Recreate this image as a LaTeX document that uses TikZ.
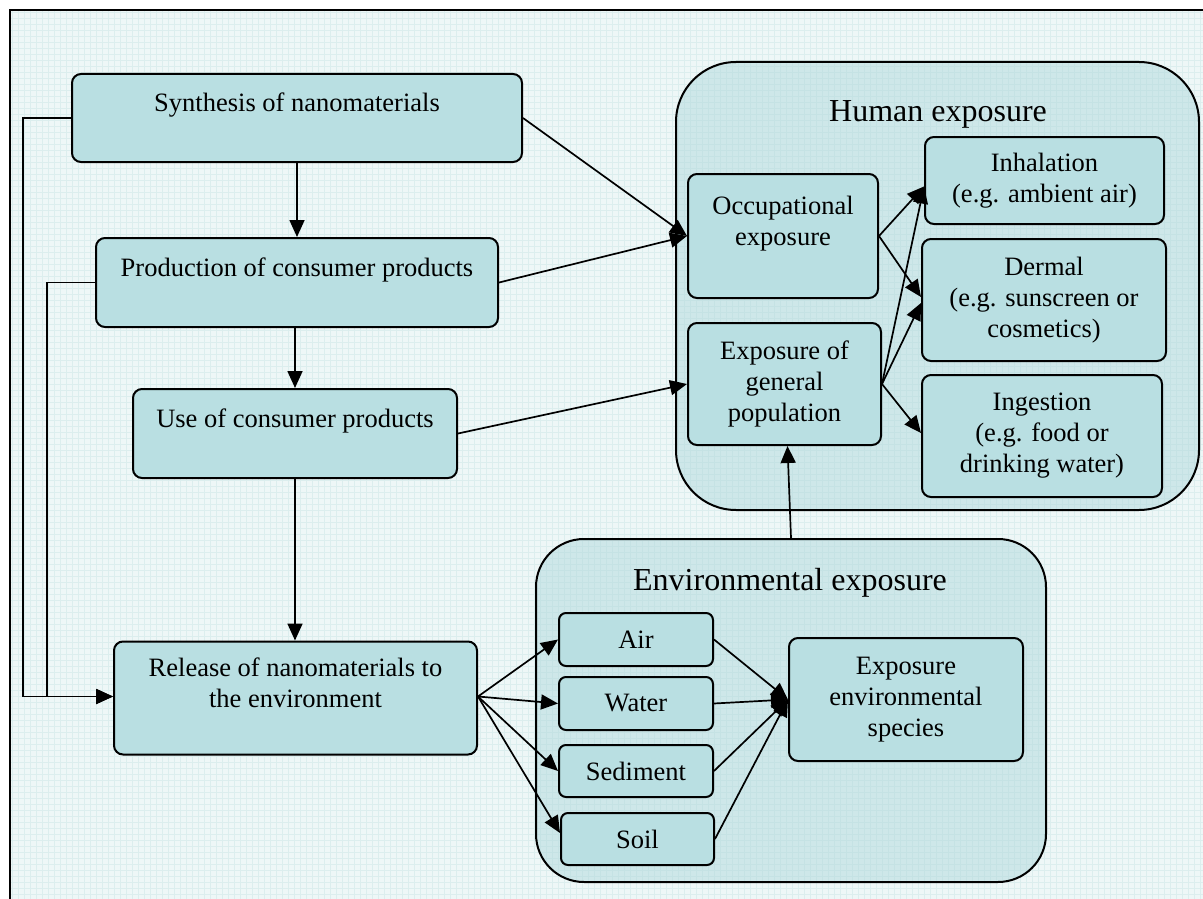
\documentclass[tikz,border=0pt]{standalone}
\usepackage{fontspec}
\setmainfont{Liberation Serif}
\usetikzlibrary{arrows.meta,calc}
\definecolor{boxfill}{HTML}{B9DFE2}
\definecolor{bgfill}{HTML}{EEF7F7}
\definecolor{gridc}{HTML}{DCEEEE}
\definecolor{contfill}{HTML}{A9D5D9}
\begin{document}
\begin{tikzpicture}[x=1pt,y=-1pt,
  box/.style={draw=black, line width=2pt, fill=boxfill, rounded corners=9pt, inner sep=0pt, align=center, font=\fontsize{26.5}{31}\selectfont},
  cont/.style={draw=black, line width=2pt, fill=contfill, fill opacity=0.45, inner sep=0pt},
  ttl/.style={font=\fontsize{32}{38}\selectfont, inner sep=0pt},
  arr/.style={line width=1.7pt, -{Triangle[length=17pt,width=15pt]}},
  link/.style={line width=1.7pt}]
\useasboundingbox (0,0) rectangle (1203,899);
\clip (0,0) rectangle (1203,899);
% background paper
\fill[bgfill] (10,10) rectangle (1220,920);
\draw[gridc, line width=0.3pt, step=6pt] (10,10) grid (1220,920);
\draw[line width=1.8pt] (10,920) -- (10,10) -- (1220,10);

% containers
\node[cont, rounded corners=60pt, minimum width=523pt, minimum height=448pt] (hum) at (937.5,286) {};
\node[cont, rounded corners=48pt, minimum width=510pt, minimum height=343pt] (envc) at (791,710.5) {};
\node[ttl] (humt) at (938,114) {Human exposure};
\node[ttl] (envt) at (790,583) {Environmental exposure};

% left chain
\node[box, minimum width=450pt, minimum height=88pt] (syn) at (297,118) {Synthesis of nanomaterials\\ ~};
\node[box, minimum width=402pt, minimum height=89pt] (prod) at (297,282.5) {Production of consumer products\\ ~};
\node[box, minimum width=324pt, minimum height=89pt] (use) at (295,433.5) {Use of consumer products\\ ~};
\node[box, minimum width=363pt, minimum height=113pt] (rel) at (295.5,698) {Release of nanomaterials to\\the environment\\ ~};

% human exposure boxes
\node[box, minimum width=190pt, minimum height=124pt] (occ) at (783,236) {Occupational\\exposure\\ ~};
\node[box, minimum width=193pt, minimum height=122pt] (gen) at (784.5,384) {Exposure of\\general\\population};
\node[box, minimum width=239pt, minimum height=87pt] (inh) at (1044.5,180.5) {Inhalation\\(e.g. ambient air)};
\node[box, minimum width=244pt, minimum height=122pt] (der) at (1044,300) {Dermal\\(e.g. sunscreen or\\cosmetics)};
\node[box, minimum width=240pt, minimum height=122pt] (ing) at (1042,436) {Ingestion\\(e.g. food or\\drinking water)};

% environmental boxes
\node[box, rounded corners=7pt, minimum width=154pt, minimum height=53pt] (air) at (636,639.5) {Air};
\node[box, rounded corners=7pt, minimum width=154pt, minimum height=53pt] (wat) at (636,703.5) {Water};
\node[box, rounded corners=7pt, minimum width=154pt, minimum height=52pt] (sed) at (636,771) {Sediment};
\node[box, rounded corners=7pt, minimum width=153pt, minimum height=52pt] (soil) at (637.5,839) {Soil};
\node[box, minimum width=234pt, minimum height=123pt] (ees) at (906,699.5) {Exposure\\environmental\\species};

% main chain arrows
\draw[arr] (syn.south) -- (prod.north);
\draw[arr] (prod.south -| use.north) -- (use.north);
\draw[arr] (use.south) -- (rel.north -| use.south);
\draw[arr] (syn.west) -- ++(-48,0) |- ($(rel.west)+(0,-1.5)$);
\draw[arr] (prod.west) -- ++(-48,0) |- ($(rel.west)+(0,-1.5)$);

% to human exposure
\draw[arr] (syn.east) -- (occ.west);
\draw[arr] (prod.east) -- (occ.west);
\draw[arr] (use.east) -- (gen.west);
\draw[arr] (occ.east) -- ($(inh.west)+(0,6)$);
\draw[arr] (occ.east) -- ($(der.west)+(0,-3)$);
\draw[arr] (gen.east) -- ($(inh.west)+(0,6)$);
\draw[arr] (gen.east) -- ($(der.west)+(0,3)$);
\draw[arr] (gen.east) -- ($(ing.west)+(0,-3)$);
\draw[arr] (envc.north) -- ($(gen.south)+(3,0)$);

% environmental arrows
\draw[arr] ($(rel.east)+(0,-1.5)$) -- (air.west);
\draw[arr] ($(rel.east)+(0,-1.5)$) -- (wat.west);
\draw[arr] ($(rel.east)+(0,-1.5)$) -- (sed.west);
\draw[arr] ($(rel.east)+(0,-1.5)$) -- ($(soil.west)+(0,-6)$);
\draw[arr] (air.east) -- (ees.west);
\draw[arr] (wat.east) -- (ees.west);
\draw[arr] (sed.east) -- (ees.west);
\draw[arr] (soil.east) -- (ees.west);
\end{tikzpicture}
\end{document}
